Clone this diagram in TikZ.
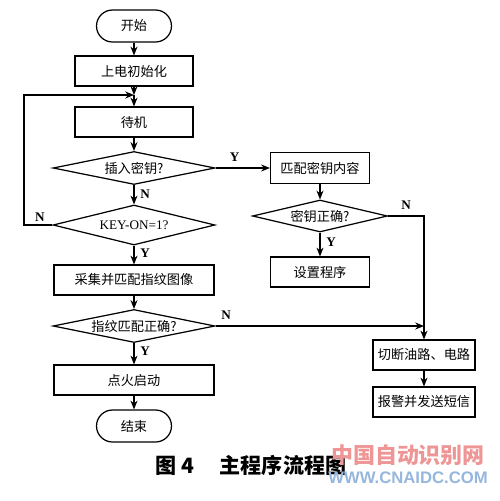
\documentclass[tikz,border=0pt]{standalone}
\usepackage{fontspec}
\setmainfont{Liberation Serif}
\newfontfamily\cjk{Noto Sans CJK SC}
\newfontfamily\wmfont{Liberation Sans}
\definecolor{wmred}{RGB}{238,150,150}
\definecolor{wmblue}{RGB}{150,182,222}
\usetikzlibrary{arrows.meta,positioning,shapes.geometric,calc}

\begin{document}
\begin{tikzpicture}[x=0.02cm, y=-0.02cm,
  procbox/.style={
    rectangle, draw, line width=0.7pt,
    minimum width=2.36cm, minimum height=0.6cm,
    inner sep=1pt, font=\cjk\fontsize{7.5}{9}\selectfont
  },
  endbox/.style={
    procbox, rounded corners=0.32cm,
    minimum width=1.5cm, minimum height=0.64cm
  },
  testbox/.style={
    diamond, draw, line width=0.7pt, aspect=5, inner sep=0pt,
    minimum width=3.24cm, minimum height=0.66cm,
    font=\cjk\fontsize{7.5}{9}\selectfont
  },
  conn/.style={-{Stealth[length=5pt,width=4pt]}, line width=0.7pt},
  line/.style={line width=0.7pt},
  yn/.style={font=\bfseries\fontsize{7.5}{9}\selectfont}
]
\useasboundingbox (0,0) rectangle (500,501);

% main column
\node[endbox]  (start)   at (134,26)  {开始};
\node[procbox] (init)    at (134,71)  {上电初始化};
\node[procbox] (wait)    at (134,122) {待机};
\node[testbox] (insert)  at (134,168) {插入密钥?};
\node[testbox, aspect=4, minimum height=0.8cm,
      font=\fontsize{7.5}{9}\selectfont] (keyon) at (134,225) {KEY-ON=1?};
\node[procbox, minimum width=3.2cm] (collect) at (134,280) {采集并匹配指纹图像};
\node[testbox] (fpok)    at (134,326) {指纹匹配正确?};
\node[procbox, minimum width=3.2cm] (fire) at (134,380) {点火启动};
\node[endbox]  (stop)    at (134,426) {结束};

% key branch
\node[procbox, minimum width=1.98cm, minimum height=0.62cm] (match) at (320,168) {匹配密钥内容};
\node[testbox, minimum width=2.7cm, minimum height=0.64cm, aspect=4.2] (keyok) at (320,216) {密钥正确?};
\node[procbox, minimum width=1.98cm] (setprog) at (320,272) {设置程序};

% alarm column
\node[procbox, minimum width=2.04cm] (cut)   at (424,355) {切断油路、电路};
\node[procbox, minimum width=2.04cm] (alarm) at (424,402) {报警并发送短信};

\coordinate (loopin) at (134,95);
\coordinate (loopx)  at (24,0);

\draw[conn] (start) -- (init);
\draw[conn] (init.south) -- (loopin);
\draw[conn] (loopin) -- (wait);
\draw[conn] (wait) -- (insert);
\draw[conn] (insert) -- node[yn, right, pos=0.45] {N} (keyon);
\draw[conn] (keyon.west) -| (loopx |- loopin) -- (loopin);
\node[yn] (nkey) at (40,217) {N};
\draw[conn] (keyon) -- node[yn, right, pos=0.4] {Y} (collect);
\draw[conn] (collect) -- (fpok);
\draw[conn] (fpok) -- node[yn, right, pos=0.4] {Y} (fire);
\draw[conn] (fire) -- (stop);

\draw[conn] (insert.east) -- node[yn, above, pos=0.35] {Y} (match.west);
\draw[conn] (match) -- (keyok);
\draw[conn] (keyok) -- node[yn, right, pos=0.4] {Y} (setprog);
\draw[conn] (keyok.east) -| node[yn, above, pos=0.25] {N} (cut.north);
\draw[conn] (fpok.east) -- node[yn, above, pos=0.05] {N} (cut.north |- fpok);
\draw[conn] (cut) -- (alarm);

% caption and watermark
\node[font=\cjk\bfseries\fontsize{12}{14}\selectfont] (caption) at (251,465)
  {图 4\hspace{1.2em}主程序流程图};
\node[font=\cjk\bfseries\fontsize{12.5}{14}\selectfont, text=wmred] (wm1) at (408,455)
  {中国自动识别网};
\node[font=\wmfont\bfseries\fontsize{9.5}{11}\selectfont, text=wmblue] (wm2) at (408,478)
  {WWW.CNAIDC.COM};
\end{tikzpicture}
\end{document}
